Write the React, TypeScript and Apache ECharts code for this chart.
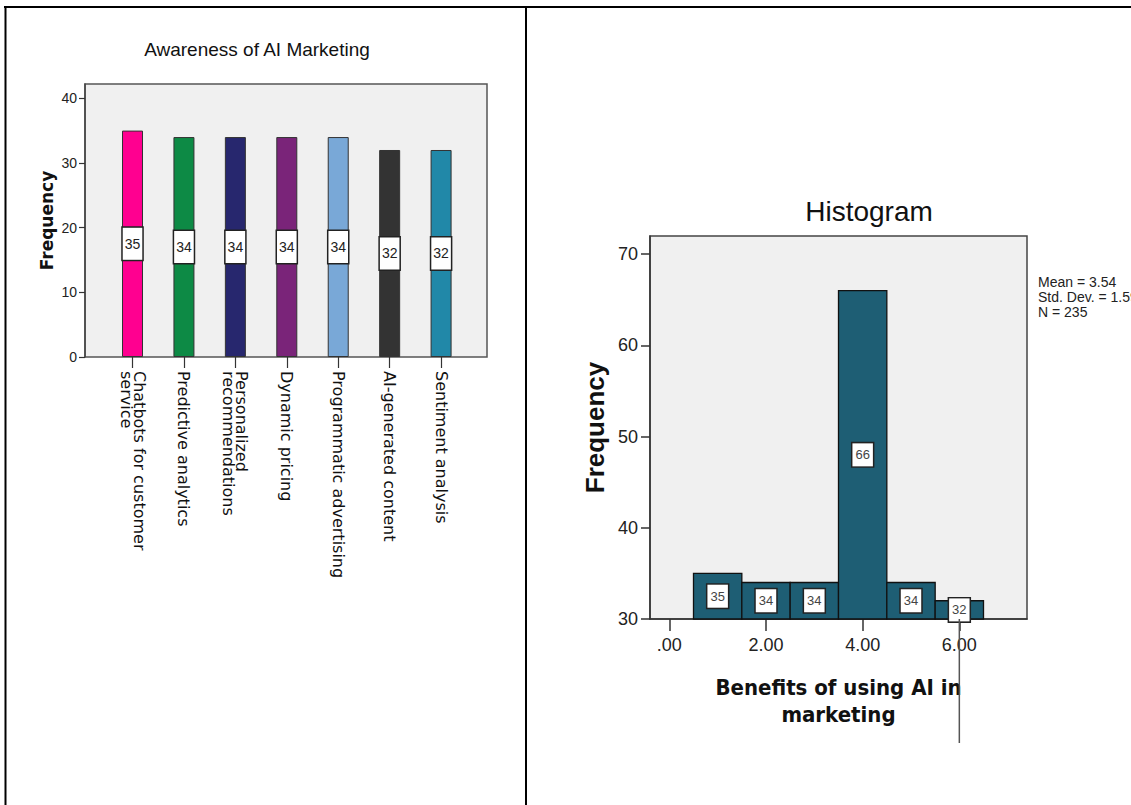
import React, { useEffect, useRef } from "react";
import * as echarts from "echarts";

// ---- Left chart: Awareness of AI Marketing ----
const awarenessCategories = [
  "Chatbots for customer\nservice",
  "Predictive analytics",
  "Personalized\nrecommendations",
  "Dynamic pricing",
  "Programmatic advertising",
  "AI-generated content",
  "Sentiment analysis",
];
const awarenessCounts = [35, 34, 34, 34, 34, 32, 32];
const awarenessColors = ["#FF0090", "#0D8A45", "#27276E", "#7A2479", "#79A8D7", "#333333", "#2188A8"];
const awarenessTicks = [0, 10, 20, 30, 40];

// ---- Right chart: Histogram ----
const histCenters = [1, 2, 3, 4, 5, 6];
const histCounts = [35, 34, 34, 66, 34, 32];
const histBinWidth = 1;
const histXTicks = [0, 2, 4, 6];
const histYTicks = [30, 40, 50, 60, 70];
const histStats = ["Mean = 3.54", "Std. Dev. = 1.597", "N = 235"];

const ARIAL = "'Liberation Sans', Arial, sans-serif";
const DEJAVU = "'DejaVu Sans', sans-serif";
const DEJAVU_COND = "'DejaVu Sans Condensed', 'DejaVu Sans', sans-serif";

export default function App() {
  const ref = useRef<HTMLDivElement>(null);

  useEffect(() => {
    if (!ref.current) return;
    const chart = echarts.init(ref.current, null, { renderer: "svg" });

    const borders: any[] = [
      { type: "line", shape: { x1: 4, y1: 7, x2: 1131, y2: 7 }, style: { stroke: "#000", lineWidth: 2 }, z: 100 },
      { type: "line", shape: { x1: 5.5, y1: 6, x2: 5.5, y2: 805 }, style: { stroke: "#000", lineWidth: 2 }, z: 100 },
      { type: "line", shape: { x1: 526, y1: 6, x2: 526, y2: 805 }, style: { stroke: "#000", lineWidth: 2 }, z: 100 },
      {
        type: "text",
        left: 1038,
        top: 274,
        style: {
          text: histStats.join("\n"),
          fill: "#222",
          font: `14px ${ARIAL}`,
          lineHeight: 15,
        },
      },
    ];

    const option: any = {
      animation: false,
      backgroundColor: "#ffffff",
      title: [
        {
          text: "Awareness of AI Marketing",
          left: 257,
          top: 40,
          padding: 0,
          textAlign: "center",
          textStyle: { fontFamily: ARIAL, fontSize: 19, fontWeight: "normal", color: "#111" },
        },
        {
          text: "Histogram",
          left: 869,
          top: 197,
          padding: 0,
          textAlign: "center",
          textStyle: { fontFamily: ARIAL, fontSize: 28, fontWeight: "normal", color: "#111" },
        },
      ],
      grid: [
        { left: 85, top: 84, width: 402, height: 273, show: true, backgroundColor: "#F0F0F0", borderColor: "#555", borderWidth: 1.5 },
        { left: 106.8, top: 84, width: 360, height: 273, show: false },
        { left: 650, top: 236, width: 377, height: 383, show: true, backgroundColor: "#F0F0F0", borderColor: "#444", borderWidth: 1.5 },
      ],
      xAxis: [
        { gridIndex: 0, type: "value", show: false, min: 0, max: 1 },
        {
          gridIndex: 1,
          type: "category",
          data: awarenessCategories,
          axisLine: { show: false },
          axisTick: { show: true, alignWithLabel: true, length: 11, lineStyle: { color: "#333", width: 1.2 } },
          axisLabel: { interval: 0, rotate: -90, margin: 14, fontFamily: DEJAVU, fontSize: 16, color: "#111", lineHeight: 13 },
          splitLine: { show: false },
        },
        {
          gridIndex: 2,
          type: "value",
          min: -0.4,
          max: 7.4,
          axisLine: { show: true, onZero: false, lineStyle: { color: "#333", width: 1.5 } },
          axisTick: { show: true, customValues: histXTicks, length: 12, lineStyle: { color: "#333", width: 1.5 } },
          axisLabel: {
            customValues: histXTicks,
            margin: 17,
            fontFamily: ARIAL,
            fontSize: 18,
            color: "#222",
            formatter: (v: number) => (v === 0 ? ".00" : v.toFixed(2)),
          },
          splitLine: { show: false },
          name: "Benefits of using AI in\nmarketing",
          nameLocation: "middle",
          nameGap: 55,
          nameTextStyle: { fontFamily: DEJAVU_COND, fontSize: 22, fontWeight: "bold", color: "#111", lineHeight: 27 },
        },
      ],
      yAxis: [
        {
          gridIndex: 0,
          type: "value",
          min: 0,
          max: 42.2,
          axisLine: { show: true, onZero: false, lineStyle: { color: "#444", width: 1.5 } },
          axisTick: { show: true, customValues: awarenessTicks, length: 6, lineStyle: { color: "#333", width: 1.2 } },
          axisLabel: { customValues: awarenessTicks, margin: 8, fontFamily: ARIAL, fontSize: 14, color: "#222" },
          splitLine: { show: false },
          name: "Frequency",
          nameLocation: "middle",
          nameGap: 30,
          nameRotate: 90,
          nameTextStyle: { fontFamily: DEJAVU, fontSize: 17, fontWeight: "bold", color: "#111" },
        },
        { gridIndex: 1, type: "value", min: 0, max: 42.2, show: false },
        {
          gridIndex: 2,
          type: "value",
          min: 30,
          max: 72,
          axisLine: { show: true, onZero: false, lineStyle: { color: "#333", width: 1.5 } },
          axisTick: { show: true, customValues: histYTicks, length: 9, lineStyle: { color: "#333", width: 1.5 } },
          axisLabel: { customValues: histYTicks, margin: 12, fontFamily: ARIAL, fontSize: 18, color: "#222" },
          splitLine: { show: false },
          name: "Frequency",
          nameLocation: "middle",
          nameGap: 42,
          nameRotate: 90,
          nameTextStyle: { fontFamily: ARIAL, fontSize: 26, fontWeight: "bold", color: "#111" },
        },
      ],
      series: [
        {
          type: "bar",
          xAxisIndex: 1,
          yAxisIndex: 1,
          barWidth: 21,
          data: awarenessCounts.map((v, i) => ({
            value: v,
            itemStyle: { color: awarenessColors[i], borderColor: "#333", borderWidth: 1 },
          })),
          label: {
            show: true,
            position: "inside",
            formatter: "{c}",
            fontFamily: ARIAL,
            fontSize: 14,
            color: "#222",
            backgroundColor: "#fff",
            borderColor: "#222",
            borderWidth: 1.5,
            padding: [9, 2],
          },
        },
        {
          type: "custom",
          xAxisIndex: 2,
          yAxisIndex: 2,
          data: histCenters.map((c, i) => [c, histCounts[i]]),
          renderItem: (params: any, api: any) => {
            const x = api.value(0);
            const v = api.value(1);
            const base = 30;
            const p0 = api.coord([x - histBinWidth / 2, v]);
            const p1 = api.coord([x + histBinWidth / 2, base]);
            const mid = api.coord([x, (v + base) / 2]);
            return {
              type: "group",
              children: [
                {
                  type: "rect",
                  shape: { x: p0[0], y: p0[1], width: p1[0] - p0[0], height: p1[1] - p0[1] },
                  style: { fill: "#1E5E74", stroke: "#111", lineWidth: 1.3 },
                },
                {
                  type: "text",
                  x: mid[0],
                  y: mid[1],
                  z2: 10,
                  style: {
                    text: String(v),
                    align: "center",
                    verticalAlign: "middle",
                    fill: "#444",
                    font: `13px ${ARIAL}`,
                    backgroundColor: "#fff",
                    borderColor: "#222",
                    borderWidth: 1.5,
                    padding: [5, 3],
                  },
                },
              ],
            };
          },
        },
      ],
      graphic: borders,
    };

    chart.setOption(option);
    const p = chart.convertToPixel({ xAxisIndex: 2, yAxisIndex: 2 }, [histXTicks[histXTicks.length - 1], 30]) as number[];
    chart.setOption({
      graphic: [
        ...borders,
        { type: "line", shape: { x1: p[0], y1: p[1], x2: p[0], y2: 743 }, style: { stroke: "#555", lineWidth: 1.5 }, z: 50 },
      ],
    });

    return () => chart.dispose();
  }, []);

  return (
    <div style={{ position: "fixed", left: 0, top: 0, width: 1131, height: 805, overflow: "hidden", background: "#fff" }}>
      <div ref={ref} style={{ width: 1131, height: 805 }} />
    </div>
  );
}
